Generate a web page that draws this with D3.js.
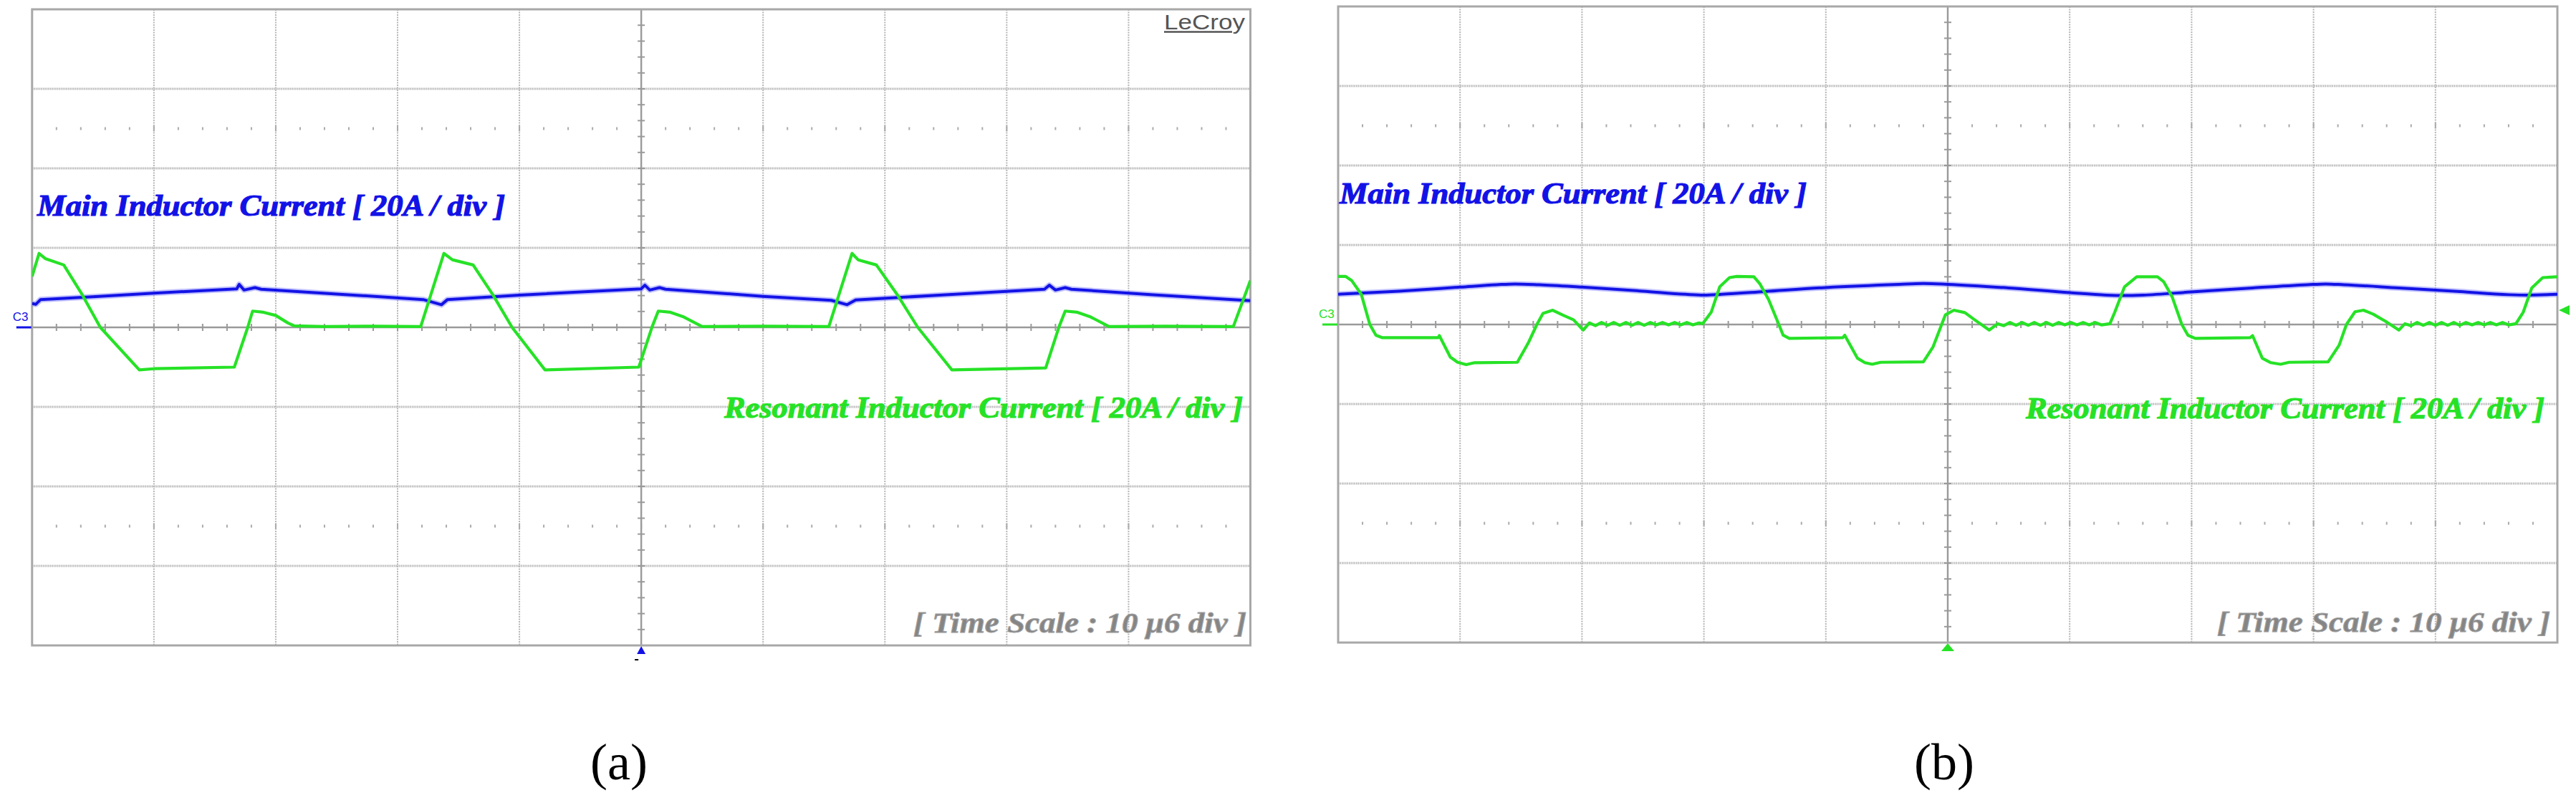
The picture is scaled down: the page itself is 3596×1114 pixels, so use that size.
<!DOCTYPE html>
<html>
<head>
<meta charset="utf-8">
<script src="https://cdn.jsdelivr.net/npm/d3@7/dist/d3.min.js"></script>
<style>
  html, body { margin: 0; padding: 0; background: #ffffff; }
  svg { display: block; }
</style>
</head>
<body>
<svg id="chart" width="3596" height="1114"></svg>
<script>
// ---------- DATA (time in µs, current in A; 10 µs/div, 20 A/div) ----------
const timeDomain = [0, 100];
const currentDomain = [-80, 80];
const timeGrid = [10, 20, 30, 40, 60, 70, 80, 90];
const currentGrid = [-60, -40, -20, 20, 40, 60];
const panelLabels = ["(a)", "(b)"];
const mainLabel = "Main Inductor Current [ 20A / div ]";
const resonantLabel = "Resonant Inductor Current [ 20A / div ]";
const timeScaleLabel = "[ Time Scale : 10  μ6  div ]";
const channelLabel = "C3";
const brandLabel = "LeCroy";

// Panel (a) – main inductor current
const mainA = [
  [0, 6.0], [0.3, 5.8], [0.7, 7.0], [5, 7.7], [10, 8.6], [16.8, 9.7], [17.0, 10.8], [17.4, 9.4],
  [18.3, 10.0], [18.8, 9.6], [25, 8.4], [32.1, 7.0], [33.6, 5.7], [34.1, 7.0], [40, 8.1],
  [50.0, 9.7], [50.3, 10.6], [50.7, 9.4], [51.5, 10.0], [52.0, 9.6], [60, 7.8], [65.6, 6.8],
  [66.9, 5.7], [67.6, 6.9], [75, 8.2], [83.1, 9.6], [83.5, 10.6], [84.0, 9.4], [84.8, 10.0],
  [85.3, 9.6], [92, 8.2], [100, 6.7]
];
// Panel (a) – resonant inductor current
const resonantA = [
  [0, 12.8], [0.57, 18.6], [1.08, 17.3], [2.6, 15.7], [4.1, 8.3], [5.6, 0], [8.8, -10.7],
  [10, -10.4], [16.6, -10.0], [17.7, 0], [18.1, 4.1], [19.0, 3.8], [20.0, 3.0], [21.0, 1.1],
  [21.5, 0.4], [24, 0.2], [28, 0.3], [31.9, 0.2], [33.8, 18.6], [34.5, 17.0], [36.2, 15.7],
  [37.8, 8.3], [39.4, 0], [42.1, -10.7], [49.8, -10.0], [50.9, 0.2], [51.4, 4.1], [52.4, 3.8],
  [53.5, 2.6], [55.0, 0.2], [60, 0.3], [65.4, 0.2], [67.3, 18.6], [67.8, 17.0], [69.3, 15.7],
  [71.0, 8.3], [72.7, 0], [75.5, -10.7], [83.2, -10.2], [84.3, 0.2], [84.8, 4.1], [85.8, 3.8],
  [86.9, 2.6], [88.4, 0.2], [93, 0.3], [98.6, 0.2], [100, 11.8]
];
// Panel (b) – main inductor current
const mainB = [
  [0, 7.6], [5, 8.4], [10, 9.4], [13, 10.0], [14.5, 10.2], [16.5, 10.0], [20, 9.4], [25, 8.4],
  [28.5, 7.6], [30, 7.4], [31.5, 7.6], [35, 8.3], [40, 9.3], [46, 10.1], [48, 10.3], [50, 10.1],
  [55, 9.2], [60, 8.0], [63, 7.4], [64.5, 7.3], [66, 7.4], [70, 8.2], [75, 9.2], [79.5, 10.0],
  [81, 10.2], [82.5, 10.0], [87, 9.2], [92, 8.3], [96, 7.5], [97.6, 7.4], [100, 7.6]
];
// Panel (b) – resonant inductor current
const resonantB = [
  [0, 12.1], [0.6, 12.1], [1.1, 11.1], [1.9, 7.6], [2.6, 0], [3.1, -2.7], [3.6, -3.3],
  [8.2, -3.3], [8.3, -2.8], [9.2, -8.2], [9.8, -9.5], [10.5, -10.1], [11.2, -9.6], [14.7, -9.5],
  [15.6, -4.6], [16.3, 0], [16.8, 2.8], [17.6, 3.6], [18.4, 2.4], [19.3, 1.2], [20.1, -1.4],
  [20.6, 0.4], [21.1, -0.3], [21.6, 0.5], [22.1, -0.2], [22.6, 0.5], [23.1, -0.2], [23.6, 0.5],
  [24.1, -0.2], [24.6, 0.5], [25.1, -0.2], [25.6, 0.5], [26.1, -0.1], [26.6, 0.5], [27.1, -0.1],
  [27.6, 0.5], [28.1, -0.1], [28.6, 0.5], [29.1, -0.1], [29.6, 0.4], [29.9, 0.2], [30.6, 3.1],
  [31.3, 9.5], [32.1, 11.8], [32.7, 12.1], [34.1, 12.0], [34.6, 10.2], [35.3, 6.3], [36.2, -0.4],
  [36.5, -2.7], [37.0, -3.5], [41.4, -3.3], [41.55, -2.7], [42.6, -8.5], [43.2, -9.6],
  [43.8, -10.0], [44.5, -9.5], [48.0, -9.4], [48.8, -5.6], [49.5, 0], [49.8, 2.4], [50.5, 3.6],
  [51.4, 3.0], [52.2, 1.2], [53.4, -1.4], [54.1, 0.2], [54.6, -0.3], [55.1, 0.5], [55.6, -0.2],
  [56.1, 0.5], [56.6, -0.2], [57.1, 0.5], [57.6, -0.2], [58.1, 0.5], [58.6, -0.2], [59.1, 0.5],
  [59.6, -0.1], [60.1, 0.5], [60.6, -0.1], [61.1, 0.5], [61.6, -0.1], [62.1, 0.5], [62.6, -0.1],
  [63.3, 0.2], [63.7, 3.1], [64.5, 9.5], [65.5, 12.0], [67.2, 12.0], [67.7, 10.8], [68.4, 7.0],
  [69.2, 0], [69.7, -2.7], [70.3, -3.5], [74.8, -3.3], [75.0, -2.8], [75.8, -8.5], [76.5, -9.6],
  [77.3, -10.0], [78.0, -9.5], [81.2, -9.4], [82.1, -5.2], [82.7, 0], [83.4, 3.2], [84.1, 3.6],
  [84.9, 2.6], [85.9, 0.8], [87.0, -1.4], [87.5, 0.2], [88.0, -0.3], [88.5, 0.5], [89.0, -0.2],
  [89.5, 0.5], [90.0, -0.2], [90.5, 0.5], [91.0, -0.2], [91.5, 0.5], [92.0, -0.2], [92.5, 0.5],
  [93.0, -0.1], [93.5, 0.5], [94.0, -0.1], [94.5, 0.5], [95.0, -0.1], [95.5, 0.5], [96.0, -0.1],
  [96.6, 0.2], [97.2, 3.1], [97.9, 9.2], [98.8, 11.8], [100, 12.0]
];

// ---------- LAYOUT ----------
const svg = d3.select("#chart");
const blue = "#1212e6", blueHalo = "#8c8cff", green = "#26e226", gridCol = "#b6b6b6", axisCol = "#9a9a9a";

const panels = [
  { x0: 44.8, x1: 1745.5, y0: 13, y1: 901, main: mainA, res: resonantA, chanColor: blue,
    mainText: { x: 52, y: 301, w: 653 }, resText: { x: 1011, y: 583, w: 724 },
    timeText: { x: 1275, y: 883, w: 465 }, label: panelLabels[0], labelX: 864, logo: true,
    trigColor: blue, rightMarker: false, trigSize: 6 },
  { x0: 1868, x1: 3570, y0: 9, y1: 897, main: mainB, res: resonantB, chanColor: green,
    mainText: { x: 1870, y: 284, w: 652 }, resText: { x: 2828, y: 584, w: 724 },
    timeText: { x: 3095, y: 882, w: 465 }, label: panelLabels[1], labelX: 2714, logo: false,
    trigColor: green, rightMarker: true, trigSize: 9 }
];

panels.forEach((p, i) => {
  const g = svg.append("g");
  const x = d3.scaleLinear().domain(timeDomain).range([p.x0, p.x1]);
  const y = d3.scaleLinear().domain(currentDomain).range([p.y1, p.y0]);
  const cx = x(50), cy = y(0);

  // vertical dotted grid
  g.selectAll(".vg").data(timeGrid).enter().append("line")
    .attr("x1", d => x(d)).attr("x2", d => x(d))
    .attr("y1", p.y0).attr("y2", p.y1)
    .attr("stroke", gridCol).attr("stroke-width", 2).attr("stroke-dasharray", "2,1.5");
  // horizontal dotted grid
  g.selectAll(".hg").data(currentGrid).enter().append("line")
    .attr("x1", p.x0).attr("x2", p.x1)
    .attr("y1", d => y(d)).attr("y2", d => y(d))
    .attr("stroke", gridCol).attr("stroke-width", 2.8).attr("stroke-dasharray", "1.5,1");

  // dotted marker rows at ±2.5 div
  const dotTimes = d3.range(2, 100, 2);
  [50, -50].forEach(level => {
    g.selectAll(null).data(dotTimes).enter().append("rect")
      .attr("x", d => x(d) - 1)
      .attr("y", d => y(level) - (d % 10 === 0 ? 4 : 2))
      .attr("width", 2)
      .attr("height", d => (d % 10 === 0 ? 8 : 4))
      .attr("fill", "#aaaaaa");
  });

  // centre axes
  g.append("line").attr("x1", p.x0).attr("x2", p.x1).attr("y1", cy).attr("y2", cy)
    .attr("stroke", axisCol).attr("stroke-width", 2.4);
  g.append("line").attr("x1", cx).attr("x2", cx).attr("y1", p.y0).attr("y2", p.y1)
    .attr("stroke", axisCol).attr("stroke-width", 2.4);
  // minor ticks on centre axes
  g.selectAll(null).data(d3.range(2, 100, 2)).enter().append("line")
    .attr("x1", d => x(d)).attr("x2", d => x(d))
    .attr("y1", cy - 5).attr("y2", cy + 5)
    .attr("stroke", axisCol).attr("stroke-width", 2);
  g.selectAll(null).data(d3.range(-76, 80, 4)).enter().append("line")
    .attr("x1", cx - 5).attr("x2", cx + 5)
    .attr("y1", d => y(d)).attr("y2", d => y(d))
    .attr("stroke", axisCol).attr("stroke-width", 2);

  // border
  g.append("rect").attr("x", p.x0).attr("y", p.y0)
    .attr("width", p.x1 - p.x0).attr("height", p.y1 - p.y0)
    .attr("fill", "none").attr("stroke", "#a8a8a8").attr("stroke-width", 3);

  // traces
  const clipId = "clip" + i;
  svg.append("defs").append("clipPath").attr("id", clipId)
    .append("rect").attr("x", p.x0).attr("y", p.y0 - 20)
    .attr("width", p.x1 - p.x0).attr("height", p.y1 - p.y0 + 20);
  const tr = g.append("g").attr("clip-path", `url(#${clipId})`);
  const lineLin = d3.line().x(d => x(d[0])).y(d => y(d[1]));
  const lineSmooth = d3.line().x(d => x(d[0])).y(d => y(d[1])).curve(d3.curveMonotoneX);
  const mainGen = i === 0 ? lineLin : lineSmooth;
  tr.append("path").datum(p.main).attr("d", mainGen)
    .attr("fill", "none").attr("stroke", blueHalo).attr("stroke-width", 8).attr("opacity", 0.55)
    .attr("stroke-linejoin", "round");
  tr.append("path").datum(p.main).attr("d", mainGen)
    .attr("fill", "none").attr("stroke", blue).attr("stroke-width", 4)
    .attr("stroke-linejoin", "round");
  tr.append("path").datum(p.res).attr("d", lineLin)
    .attr("fill", "none").attr("stroke", green).attr("stroke-width", 4.2)
    .attr("stroke-linejoin", "round");

  // annotations
  const bi = "'Liberation Serif', 'Times New Roman', serif";
  g.append("text").text(mainLabel)
    .attr("x", p.mainText.x).attr("y", p.mainText.y)
    .attr("textLength", p.mainText.w).attr("lengthAdjust", "spacingAndGlyphs")
    .attr("font-family", bi).attr("font-style", "italic").attr("font-weight", "bold")
    .attr("font-size", 42).attr("fill", blue).attr("stroke", blue).attr("stroke-width", 1.2);
  g.append("text").text(resonantLabel)
    .attr("x", p.resText.x).attr("y", p.resText.y)
    .attr("textLength", p.resText.w).attr("lengthAdjust", "spacingAndGlyphs")
    .attr("font-family", bi).attr("font-style", "italic").attr("font-weight", "bold")
    .attr("font-size", 42).attr("fill", green).attr("stroke", green).attr("stroke-width", 1.2);
  g.append("text").text(timeScaleLabel)
    .attr("x", p.timeText.x).attr("y", p.timeText.y)
    .attr("textLength", p.timeText.w).attr("lengthAdjust", "spacingAndGlyphs")
    .attr("font-family", bi).attr("font-style", "italic").attr("font-weight", "bold")
    .attr("font-size", 41).attr("fill", "#858585")
    .attr("stroke", "#a0a0a0").attr("stroke-width", 1);

  // channel marker
  g.append("text").text(channelLabel)
    .attr("x", p.x0 - 27).attr("y", cy - 9)
    .attr("font-family", "'Liberation Sans Narrow', 'Liberation Sans', sans-serif")
    .attr("font-size", 17).attr("fill", p.chanColor);
  g.append("line").attr("x1", p.x0 - 22).attr("x2", p.x0 - 1).attr("y1", cy).attr("y2", cy)
    .attr("stroke", p.chanColor).attr("stroke-width", 3);

  // trigger position marker (bottom centre)
  const s = p.trigSize;
  g.append("path")
    .attr("d", `M${cx - s},${p.y1 + 12} L${cx + s},${p.y1 + 12} L${cx},${p.y1 + 1} Z`)
    .attr("fill", p.trigColor);
  if (i === 0) {
    g.append("line").attr("x1", cx - 9).attr("x2", cx - 4).attr("y1", p.y1 + 20).attr("y2", p.y1 + 20)
      .attr("stroke", "#000").attr("stroke-width", 2);
  }
  // trigger level marker (right edge)
  if (p.rightMarker) {
    const ty = y(3.6);
    g.append("path")
      .attr("d", `M${p.x1 + 2},${ty} L${p.x1 + 17},${ty - 7} L${p.x1 + 17},${ty + 7} Z`)
      .attr("fill", green);
  }

  // brand logo
  if (p.logo) {
    g.append("text").text(brandLabel)
      .attr("x", 1625).attr("y", 41)
      .attr("textLength", 113).attr("lengthAdjust", "spacingAndGlyphs")
      .attr("font-family", "'Liberation Sans', Arial, sans-serif")
      .attr("font-size", 29).attr("fill", "#555555");
    g.append("line").attr("x1", 1625).attr("x2", 1720).attr("y1", 44.5).attr("y2", 44.5)
      .attr("stroke", "#555555").attr("stroke-width", 2.5);
  }

  // panel label
  svg.append("text").text(p.label)
    .attr("x", p.labelX).attr("y", 1088).attr("text-anchor", "middle")
    .attr("font-family", "'Liberation Serif', 'Times New Roman', serif")
    .attr("font-size", 72).attr("fill", "#000");
});
</script>
</body>
</html>
